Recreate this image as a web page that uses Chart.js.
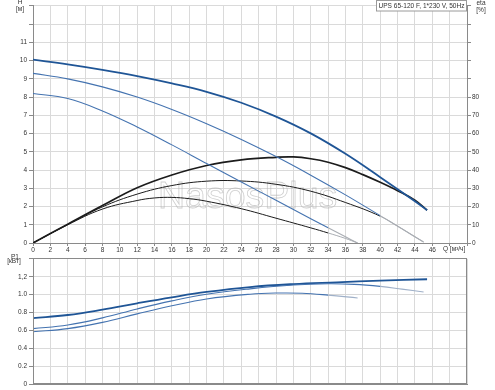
<!DOCTYPE html>
<html>
<head>
<meta charset="utf-8">
<script src="https://cdn.jsdelivr.net/npm/chart.js@4.4.0/dist/chart.umd.min.js"></script>
<style>
  body { margin: 0; background: #fff; }
  #wrap { position: relative; width: 495px; height: 390px; }
  canvas { position: absolute; left: 0; }
  #top { top: 0; }
  #bot { top: 253px; }
</style>
</head>
<body>
<div id="wrap">
  <canvas id="top" width="495" height="253"></canvas>
  <canvas id="bot" width="495" height="137"></canvas>
</div>
<script>
// head H [m] for speeds 3 / 2 / 1
const qH3 = [0, 4, 8, 12, 16, 20, 24, 28, 32, 36, 40, 44, 45.4];
const h3  = [10.05, 9.79, 9.49, 9.15, 8.75, 8.29, 7.69, 6.93, 6.01, 4.89, 3.61, 2.29, 1.8];
const qH2 = [0, 4, 8, 12, 16, 20, 24, 28, 32, 36, 40, 42.5, 45];
const h2  = [9.3, 9.0, 8.56, 8.0, 7.32, 6.54, 5.68, 4.74, 3.72, 2.64, 1.5, 0.78, 0.05];
const qH1 = [0, 4, 8, 12, 16, 20, 24, 28, 32, 34, 36, 37.4];
const h1  = [8.2, 7.92, 7.24, 6.36, 5.38, 4.36, 3.35, 2.34, 1.33, 0.83, 0.34, 0];

// efficiency eta [%]
const qE3 = [0, 4, 8, 12, 16, 20, 24, 28, 30, 32, 34, 36, 38, 40, 42, 44, 45.4];
const e3  = [0, 10.3, 20.5, 30.3, 37.3, 42.5, 45.6, 47.0, 47.2, 46.2, 44.3, 41.3, 37.5, 33.3, 28.7, 23.5, 18];
const qE2 = [0, 4, 8, 12, 16, 20, 24, 28, 32, 36, 40, 42.5, 45];
const e2  = [0, 10.2, 19.8, 26.8, 31.5, 33.9, 34.0, 32.2, 28.4, 22.2, 14.7, 7.8, 0.5];
const qE1 = [0, 4, 8, 12, 14, 16, 18, 20, 24, 28, 32, 34, 36, 37.4];
const e1  = [0, 10, 18.6, 23.3, 24.7, 25.0, 24.3, 22.9, 18.8, 13.6, 8.3, 5.5, 2.5, 0];

// power P1 [kW]
const qP3 = [0, 4, 8, 12, 16, 20, 25, 30, 35, 40, 45.4];
const p3  = [0.737, 0.772, 0.832, 0.903, 0.97, 1.03, 1.085, 1.118, 1.138, 1.157, 1.172];
const qP2 = [0, 4, 8, 12, 16, 20, 25, 30, 34, 37, 40, 42.5, 45];
const p2  = [0.62, 0.66, 0.74, 0.84, 0.93, 1.005, 1.065, 1.108, 1.122, 1.115, 1.092, 1.062, 1.03];
const qP1 = [0, 4, 8, 12, 16, 20, 25, 28, 31, 34, 37.4];
const p1  = [0.585, 0.62, 0.69, 0.785, 0.875, 0.952, 1.005, 1.018, 1.016, 0.995, 0.963];

// end of the allowed range, speed 2 and speed 1 (drawn grey after it)
const limit2 = 40;
const limit1 = 34;

const qLabelMax = 46;
const hLabelMax = 11;
const etaLabelMax = 80;
const pTickLabels = ['0', '0.2', '0.4', '0.6', '0.8', '1.0', '1,2', ''];

const FONT = 'Liberation Sans, Arial, sans-serif';
const tickFont = { family: FONT, size: 6.5 };
const gridColor = '#dadada';
const axisColor = '#8a8a8a';
const blueThick = '#1f5596';
const blueThin = '#4473b0';
const black = '#1c1c1c';
const greyExt = '#a9adb3';

const pts = (xs, ys) => xs.map((x, i) => ({ x: x, y: ys[i] }));
const greyAfter = (lim, col) => ({
  borderColor: c => (c.p0.parsed.x >= lim - 1e-6 ? col : undefined)
});

function line(data, color, width, extra) {
  return Object.assign({
    data: data,
    borderColor: color,
    borderWidth: width,
    pointRadius: 0,
    fill: false,
    tension: 0.4
  }, extra || {});
}

const topTexts = {
  id: 'topTexts',
  beforeDatasetsDraw(chart) {
    const ctx = chart.ctx;
    ctx.save();
    ctx.font = '37.5px ' + FONT;
    ctx.strokeStyle = 'rgba(175,175,175,0.6)';
    ctx.lineWidth = 0.8;
    ctx.textBaseline = 'alphabetic';
    ctx.strokeText('NasosPlus', 158, 208);
    ctx.restore();
  },
  afterDraw(chart) {
    const ctx = chart.ctx;
    ctx.save();
    ctx.fillStyle = '#333';
    ctx.font = '6.5px ' + FONT;
    ctx.textAlign = 'center';
    ctx.textBaseline = 'middle';
    ctx.fillText('H', 20, 2.5);
    ctx.fillText('[м]', 20, 9.5);
    ctx.fillText('eta', 481, 3);
    ctx.fillText('[%]', 481, 10.5);
    ctx.textAlign = 'left';
    ctx.fillText('Q [м³/ч]', 443, 249);
    // type box
    const title = 'UPS 65-120 F, 1*230 V, 50Hz';
    ctx.font = '7px ' + FONT;
    const size = 7 * 86 / ctx.measureText(title).width;
    ctx.fillStyle = '#fff';
    ctx.fillRect(376, 0, 91, 11);
    ctx.strokeStyle = '#9a9a9a';
    ctx.lineWidth = 1;
    ctx.strokeRect(376.5, 0.5, 90, 10.5);
    ctx.fillStyle = '#333';
    ctx.font = size.toFixed(2) + 'px ' + FONT;
    ctx.fillText(title, 378.5, 6);
    ctx.restore();
  }
};

const botTexts = {
  id: 'botTexts',
  afterDraw(chart) {
    const ctx = chart.ctx;
    const a = chart.chartArea;
    ctx.save();
    ctx.strokeStyle = axisColor;
    ctx.lineWidth = 1;
    ctx.strokeRect(Math.round(a.left) + 0.5, Math.round(a.top) - 0.5, Math.round(a.right - a.left) - 1, Math.round(a.bottom - a.top));
    ctx.fillStyle = '#333';
    ctx.font = '6.5px ' + FONT;
    ctx.textAlign = 'center';
    ctx.textBaseline = 'middle';
    ctx.fillText('P1', 15, 4.5);
    ctx.fillText('[кВт]', 14, 8.5);
    ctx.restore();
  }
};

new Chart(document.getElementById('top'), {
  type: 'scatter',
  data: {
    datasets: [
      line(pts(qH1, h1), blueThin, 1.1, { segment: greyAfter(limit1, greyExt) }),
      line(pts(qH2, h2), blueThin, 1.1, { segment: greyAfter(limit2, greyExt) }),
      line(pts(qH3, h3), blueThick, 1.8),
      line(pts(qE1, e1), black, 1, { yAxisID: 'y1', segment: greyAfter(limit1, greyExt) }),
      line(pts(qE2, e2), black, 1, { yAxisID: 'y1', segment: greyAfter(limit2, greyExt) }),
      line(pts(qE3, e3), black, 1.7, { yAxisID: 'y1' })
    ]
  },
  options: {
    responsive: false,
    animation: false,
    showLine: true,
    layout: { padding: 0 },
    plugins: { legend: { display: false }, tooltip: { enabled: false } },
    scales: {
      x: {
        type: 'linear', min: 0, max: 50,
        afterFit: s => { s.height = 10; },
        grid: { color: gridColor, tickLength: 3, tickColor: axisColor },
        border: { color: axisColor },
        ticks: {
          stepSize: 2, autoSkip: false, maxRotation: 0, padding: 0,
          font: tickFont, color: '#333',
          callback: v => (v <= qLabelMax ? v : '')
        }
      },
      y: {
        min: 0, max: 13,
        afterFit: s => { s.width = 33; },
        grid: { color: gridColor, tickLength: 4, tickColor: axisColor },
        border: { color: axisColor },
        ticks: {
          stepSize: 1, autoSkip: false, padding: 2,
          font: tickFont, color: '#333',
          callback: v => (v <= hLabelMax ? v : '')
        }
      },
      y1: {
        position: 'right', min: 0, max: 130,
        afterFit: s => { s.width = 28; },
        grid: { drawOnChartArea: false, tickLength: 4, tickColor: axisColor },
        border: { color: axisColor },
        ticks: {
          stepSize: 10, autoSkip: false, padding: 1,
          font: tickFont, color: '#333',
          callback: v => (v <= etaLabelMax ? v : '')
        }
      }
    }
  },
  plugins: [topTexts]
});

new Chart(document.getElementById('bot'), {
  type: 'scatter',
  data: {
    datasets: [
      line(pts(qP1, p1), blueThin, 1.1, { segment: greyAfter(limit1, '#9fb0c8') }),
      line(pts(qP2, p2), blueThin, 1.1, { segment: greyAfter(limit2, '#9fb0c8') }),
      line(pts(qP3, p3), blueThick, 1.8)
    ]
  },
  options: {
    responsive: false,
    animation: false,
    showLine: true,
    layout: { padding: { top: 3, right: 28, left: 0, bottom: 0 } },
    plugins: { legend: { display: false }, tooltip: { enabled: false } },
    scales: {
      x: {
        type: 'linear', min: 0, max: 50,
        afterFit: s => { s.height = 6; },
        grid: { color: gridColor, drawTicks: false },
        border: { color: axisColor },
        ticks: { stepSize: 2, display: false }
      },
      y: {
        min: 0, max: 1.4,
        afterFit: s => { s.width = 33; },
        grid: { color: gridColor, tickLength: 4, tickColor: axisColor },
        border: { color: axisColor },
        ticks: {
          stepSize: 0.2, autoSkip: false, padding: 2,
          font: tickFont, color: '#333',
          callback: (v, i) => pTickLabels[i]
        }
      }
    }
  },
  plugins: [botTexts]
});
</script>
</body>
</html>
